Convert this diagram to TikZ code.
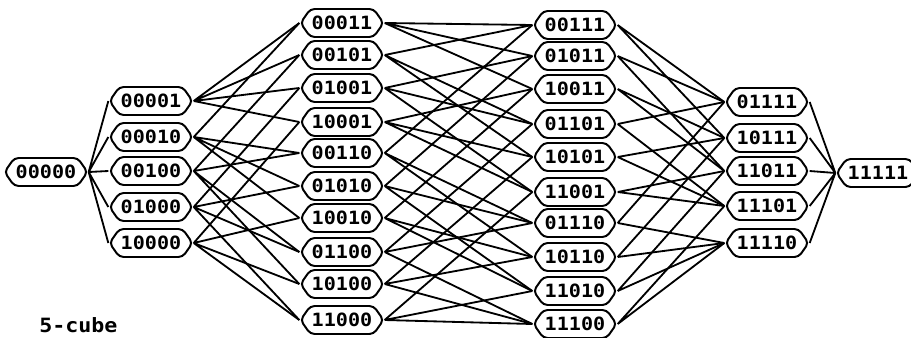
\documentclass[tikz,border=0pt]{standalone}
\usepackage{fontspec}
\usetikzlibrary{shapes.symbols}
\newfontfamily\bitfont[FakeStretch=1.1]{DejaVu Sans Mono}

\begin{document}
\begin{tikzpicture}[
  x=0.025cm, y=-0.025cm,
  vert/.style={draw, line width=1.4pt, rounded corners=3pt, signal, signal to=west and east, signal pointer angle=110,
    minimum width=2.05cm, minimum height=0.7cm, inner sep=1pt, font=\bitfont\bfseries\fontsize{13}{13}\selectfont},
  edge/.style={line width=1.3pt},
]
  \useasboundingbox (0,0) rectangle (911,337);

  % Level 0
  \node[vert] (v00000) at (46,172) {00000};

  % Level 1
  \node[vert] (v00001) at (151,101) {00001};
  \node[vert] (v00010) at (151,137) {00010};
  \node[vert] (v00100) at (151,171) {00100};
  \node[vert] (v01000) at (151,207) {01000};
  \node[vert] (v10000) at (151,243) {10000};

  % Level 2
  \node[vert] (v00011) at (342,23) {00011};
  \node[vert] (v00101) at (342,55) {00101};
  \node[vert] (v01001) at (342,88) {01001};
  \node[vert] (v10001) at (342,122) {10001};
  \node[vert] (v00110) at (342,153) {00110};
  \node[vert] (v01010) at (342,186) {01010};
  \node[vert] (v10010) at (342,218) {10010};
  \node[vert] (v01100) at (342,252) {01100};
  \node[vert] (v10100) at (342,284) {10100};
  \node[vert] (v11000) at (342,320) {11000};

  % Level 3
  \node[vert] (v00111) at (575,25) {00111};
  \node[vert] (v01011) at (575,56) {01011};
  \node[vert] (v10011) at (575,89) {10011};
  \node[vert] (v01101) at (575,124) {01101};
  \node[vert] (v10101) at (575,157) {10101};
  \node[vert] (v11001) at (575,192) {11001};
  \node[vert] (v01110) at (575,223) {01110};
  \node[vert] (v10110) at (575,257) {10110};
  \node[vert] (v11010) at (575,291) {11010};
  \node[vert] (v11100) at (575,324) {11100};

  % Level 4
  \node[vert] (v01111) at (767,102) {01111};
  \node[vert] (v10111) at (767,138) {10111};
  \node[vert] (v11011) at (767,171) {11011};
  \node[vert] (v11101) at (767,206) {11101};
  \node[vert] (v11110) at (767,243) {11110};

  % Level 5
  \node[vert] (v11111) at (878,173) {11111};

  \node[anchor=west, inner sep=0pt, font=\bitfont\bfseries\fontsize{14}{14}\selectfont] (title) at (39,325) {5-cube};

  % Edges 0-1
  \draw[edge] (v00000.east) -- (v00001.west) (v00000.east) -- (v00010.west) (v00000.east) -- (v00100.west)
    (v00000.east) -- (v01000.west) (v00000.east) -- (v10000.west);

  % Edges 1-2
  \draw[edge] (v00001.east) -- (v00011.west) (v00001.east) -- (v00101.west) (v00001.east) -- (v01001.west) (v00001.east) -- (v10001.west);
  \draw[edge] (v00010.east) -- (v00011.west) (v00010.east) -- (v00110.west) (v00010.east) -- (v01010.west) (v00010.east) -- (v10010.west);
  \draw[edge] (v00100.east) -- (v00101.west) (v00100.east) -- (v00110.west) (v00100.east) -- (v01100.west) (v00100.east) -- (v10100.west);
  \draw[edge] (v01000.east) -- (v01001.west) (v01000.east) -- (v01010.west) (v01000.east) -- (v01100.west) (v01000.east) -- (v11000.west);
  \draw[edge] (v10000.east) -- (v10001.west) (v10000.east) -- (v10010.west) (v10000.east) -- (v10100.west) (v10000.east) -- (v11000.west);

  % Edges 2-3
  \draw[edge] (v00011.east) -- (v00111.west) (v00011.east) -- (v01011.west) (v00011.east) -- (v10011.west);
  \draw[edge] (v00101.east) -- (v00111.west) (v00101.east) -- (v01101.west) (v00101.east) -- (v10101.west);
  \draw[edge] (v01001.east) -- (v01011.west) (v01001.east) -- (v01101.west) (v01001.east) -- (v11001.west);
  \draw[edge] (v10001.east) -- (v10011.west) (v10001.east) -- (v10101.west) (v10001.east) -- (v11001.west);
  \draw[edge] (v00110.east) -- (v00111.west) (v00110.east) -- (v01110.west) (v00110.east) -- (v10110.west);
  \draw[edge] (v01010.east) -- (v01011.west) (v01010.east) -- (v01110.west) (v01010.east) -- (v11010.west);
  \draw[edge] (v10010.east) -- (v10011.west) (v10010.east) -- (v10110.west) (v10010.east) -- (v11010.west);
  \draw[edge] (v01100.east) -- (v01101.west) (v01100.east) -- (v01110.west) (v01100.east) -- (v11100.west);
  \draw[edge] (v10100.east) -- (v10101.west) (v10100.east) -- (v10110.west) (v10100.east) -- (v11100.west);
  \draw[edge] (v11000.east) -- (v11001.west) (v11000.east) -- (v11010.west) (v11000.east) -- (v11100.west);

  % Edges 3-4
  \draw[edge] (v00111.east) -- (v01111.west) (v00111.east) -- (v10111.west);
  \draw[edge] (v01011.east) -- (v01111.west) (v01011.east) -- (v11011.west);
  \draw[edge] (v10011.east) -- (v10111.west) (v10011.east) -- (v11011.west);
  \draw[edge] (v01101.east) -- (v01111.west) (v01101.east) -- (v11101.west);
  \draw[edge] (v10101.east) -- (v10111.west) (v10101.east) -- (v11101.west);
  \draw[edge] (v11001.east) -- (v11011.west) (v11001.east) -- (v11101.west);
  \draw[edge] (v01110.east) -- (v01111.west) (v01110.east) -- (v11110.west);
  \draw[edge] (v10110.east) -- (v10111.west) (v10110.east) -- (v11110.west);
  \draw[edge] (v11010.east) -- (v11011.west) (v11010.east) -- (v11110.west);
  \draw[edge] (v11100.east) -- (v11101.west) (v11100.east) -- (v11110.west);

  % Edges 4-5
  \draw[edge] (v01111.east) -- (v11111.west) (v10111.east) -- (v11111.west) (v11011.east) -- (v11111.west)
    (v11101.east) -- (v11111.west) (v11110.east) -- (v11111.west);
\end{tikzpicture}
\end{document}
